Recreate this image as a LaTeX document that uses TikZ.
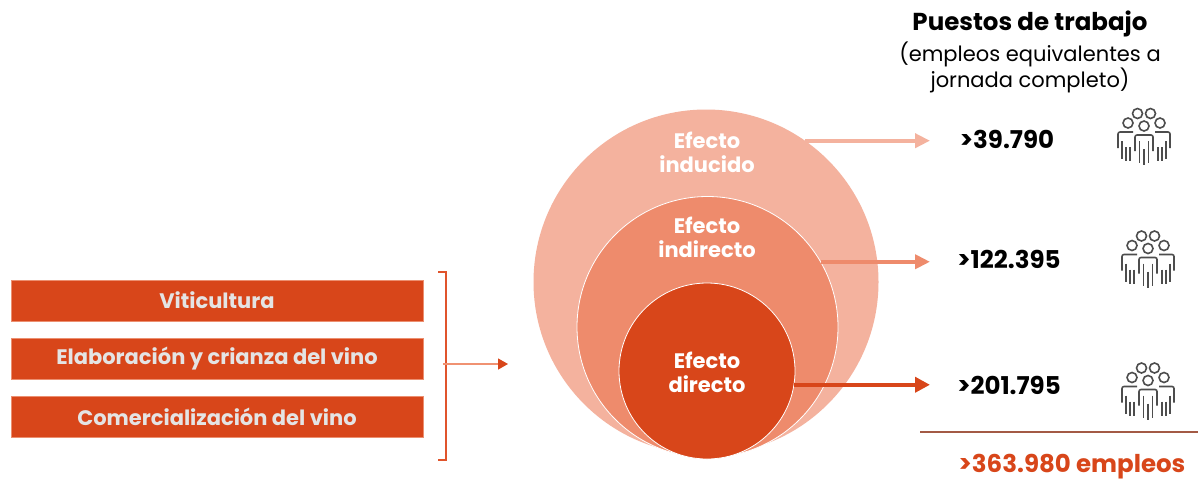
\documentclass[tikz,border=0pt]{standalone}
\usepackage{fontspec}
\setmainfont{Poppins}
\usetikzlibrary{arrows.meta}
\definecolor{cOuter}{HTML}{F4B29E}
\definecolor{cMid}{HTML}{EE8B6C}
\definecolor{cIn}{HTML}{D8461A}
\definecolor{cBoxTxt}{HTML}{E4E4E4}
\definecolor{cBoxEdge}{HTML}{EC8F70}
\definecolor{cIcon}{HTML}{4D4D4D}
\definecolor{cRule}{HTML}{A35A45}
\definecolor{cBracket}{HTML}{E0542C}
\definecolor{cThin}{HTML}{F09272}
\tikzset{
  people/.pic={
    \begin{scope}[draw=cIcon, line width=1.6pt]
      \draw (-6.5,-21.5) circle[radius=5];
      \draw (6.5,-21.5) circle[radius=5];
      \draw (-16,-12) circle[radius=5];
      \draw (16,-12) circle[radius=5];
      \draw (0,-9) circle[radius=5];
      \draw[rounded corners=2pt] (-11,-3) -- (-26,-3) -- (-26,13);
      \draw[rounded corners=2pt] (11,-3) -- (26,-3) -- (26,13);
      \draw[rounded corners=2pt] (-9,16) -- (-9,0) -- (9,0) -- (9,16);
      \foreach \xx/\ya/\yb in {-22/6/24,-18/12/26,-14/12/26,-4.5/6/28,0/14/30,4.5/6/28,14/12/26,18/12/26,22/6/24}
        \draw (\xx,\ya) -- (\xx,\yb);
    \end{scope}
  }
}
\begin{document}
\begin{tikzpicture}[x=1pt,y=-1pt,
  every node/.style={inner sep=0pt, outer sep=0pt},
  box/.style={fill=cIn, draw=cBoxEdge, line width=0.6pt, minimum width=412pt, minimum height=41pt,
    text=cBoxTxt, font=\fontsize{21}{24}\selectfont\bfseries},
  ring/.style={circle, draw=white, line width=0.8pt},
  ctext/.style={text=white, align=center, font=\fontsize{21}{24}\selectfont\bfseries},
  num/.style={text=black, font=\fontsize{24.5}{28}\selectfont\bfseries},
  arrA/.style={draw=cOuter, line width=4pt, -{Triangle[length=15pt,width=14pt]}},
  arrB/.style={draw=cMid, line width=4pt, -{Triangle[length=15pt,width=14pt]}},
  arrC/.style={draw=cIn, line width=4.5pt, -{Triangle[length=15pt,width=15pt]}},
  bracket/.style={draw=cBracket, line width=1.2pt},
  thin/.style={draw=cThin, line width=1.3pt, -{Triangle[length=10pt,width=11pt,color=cIn]}}
]
\useasboundingbox (0,0) rectangle (1198,480);
\fill[white] (0,0) rectangle (1198,480);

% boxes
\node[box] (b1) at (217,300.5) {Viticultura};
\node[box] (b2) at (217,359) {Elaboración y crianza del vino};
\node[box] (b3) at (217,417) {Comercialización del vino};

% bracket
\coordinate (brT) at (438,272);
\coordinate (brTc) at (446,272);
\coordinate (brB) at (438,460);
\coordinate (brBc) at (446,460);
\coordinate (brM) at (443,364);
\coordinate (brTip) at (508,364);
\draw[bracket] (brT) -- (brTc) -- (brBc) -- (brB);
\draw[thin] (brM) -- (brTip);

% circles
\node[circle, fill=cOuter, minimum size=345pt] (outer) at (706,282) {};
\node[ring, fill=cMid, minimum size=261pt] (mid) at (707.5,327) {};
\node[ring, fill=cIn, minimum size=176pt] (inner) at (707,371) {};

\node[ctext] (t1) at (707,152) {Efecto\\inducido};
\node[ctext] (t2) at (707,237) {Efecto\\indirecto};
\node[ctext] (t3) at (707,372) {Efecto\\directo};

% numbers
\node[num] (n1) at (1007,139) {>39.790};
\node[num] (n2) at (1009,259) {>122.395};
\node[num] (n3) at (1009,385) {>201.795};

\coordinate (tip) at (930,0);
\draw[arrA] (outer.55.7) -- (outer.55.7 -| tip);
\draw[arrB] (mid.30.9) -- (mid.30.9 -| tip);
\draw[arrC] (inner.-9.2) -- (inner.-9.2 -| tip);

% header
\node[font=\fontsize{24.5}{28}\selectfont\bfseries] (ttl) at (1030,24) {Puestos de trabajo};
\node[align=center, font=\fontsize{21}{26}\selectfont] (sub) at (1030,67) {(empleos equivalentes a\\jornada completo)};

% icons
\pic (ic1) at (1144,135) {people};
\pic (ic2) at (1148,257.5) {people};
\pic (ic3) at (1148,389.5) {people};

% total
\coordinate (rL) at (920,432);
\coordinate (rR) at (1198,432);
\draw[draw=cRule, line width=2pt] (rL) -- (rR);
\node[text=cIn, anchor=base, font=\fontsize{24.5}{28}\selectfont\bfseries] (tot) at (1072,472) {>363.980 empleos};
\end{tikzpicture}
\end{document}
